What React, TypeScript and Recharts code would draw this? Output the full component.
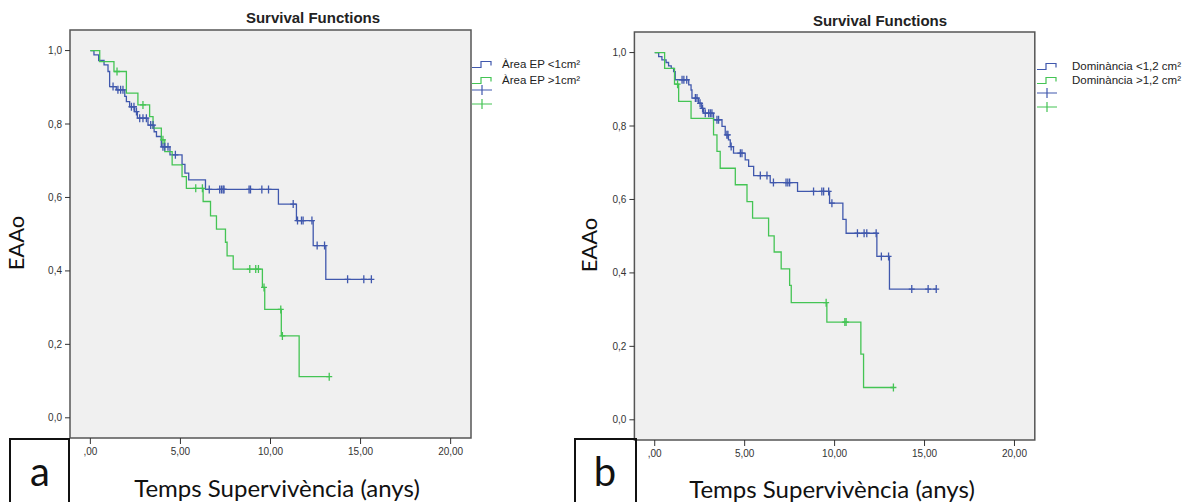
import { ComposedChart, Line, Scatter, XAxis, YAxis, CartesianGrid, ReferenceArea } from 'recharts'

const BLUE = '#4058ad'
const GREEN = '#44c454'

// shared axes
const xTicks = [0, 5, 10, 15, 20]
const yTicks = [0, 0.2, 0.4, 0.6, 0.8, 1.0]

// panel a: Àrea EP
const aLabels = ['Àrea EP <1cm²', 'Àrea EP >1cm²']
const aLowTimes = [0, 0.2, 0.46, 0.76, 0.98, 1.07, 1.44, 1.91, 2.0, 2.18, 2.46, 2.61, 3.2, 3.54, 3.67, 3.94, 4.42, 5.09, 5.25, 5.46, 6.39, 10.44, 11.44, 12.37, 13.07]
const aLowSurv = [1, 0.988, 0.973, 0.961, 0.943, 0.902, 0.893, 0.875, 0.861, 0.847, 0.834, 0.816, 0.797, 0.779, 0.766, 0.738, 0.716, 0.69, 0.666, 0.648, 0.622, 0.582, 0.537, 0.469, 0.377]
const aLowCens = [1.26, 1.53, 1.68, 1.81, 2.28, 2.42, 2.56, 2.74, 2.92, 3.11, 3.35, 3.48, 4.03, 4.13, 4.31, 4.72, 6.6, 7.18, 7.28, 7.37, 7.42, 8.81, 8.89, 9.52, 9.89, 11.26, 11.5, 11.72, 11.81, 12.3, 12.59, 13.0, 14.28, 15.18, 15.6]
const aHighTimes = [0, 0.52, 1.31, 2.0, 2.64, 3.29, 3.48, 3.94, 4.13, 4.54, 5.09, 5.33, 6.26, 6.67, 7.0, 7.5, 7.59, 7.93, 9.55, 9.68, 10.6, 11.59]
const aHighSurv = [1, 0.97, 0.943, 0.884, 0.852, 0.82, 0.789, 0.757, 0.725, 0.689, 0.657, 0.625, 0.589, 0.55, 0.514, 0.478, 0.441, 0.405, 0.355, 0.295, 0.223, 0.112]
const aHighCens = [1.48, 2.92, 4.03, 5.85, 6.22, 8.85, 9.18, 9.33, 9.64, 10.57, 10.66, 13.26]

// panel b: Dominància
const bLabels = ['Dominància <1,2 cm²', 'Dominància >1,2 cm²']
const bLowTimes = [0, 0.22, 0.4, 0.63, 0.77, 0.92, 1.05, 1.14, 1.89, 2.02, 2.07, 2.44, 2.59, 2.72, 3.27, 3.74, 3.92, 4.1, 4.2, 4.38, 5.03, 5.22, 5.5, 6.42, 7.94, 9.72, 10.46, 10.64, 12.35, 13.05]
const bLowSurv = [1, 0.989, 0.98, 0.973, 0.964, 0.957, 0.948, 0.926, 0.912, 0.898, 0.876, 0.862, 0.848, 0.835, 0.817, 0.799, 0.776, 0.762, 0.744, 0.726, 0.708, 0.69, 0.665, 0.646, 0.622, 0.59, 0.546, 0.508, 0.445, 0.356]
const bLowCens = [1.52, 1.62, 1.78, 2.26, 2.35, 2.52, 2.66, 2.81, 3.0, 3.09, 3.18, 3.46, 3.55, 4.01, 4.07, 4.25, 4.76, 4.85, 5.87, 6.24, 6.6, 7.3, 7.4, 7.5, 8.83, 9.29, 9.39, 9.67, 9.85, 11.27, 11.64, 11.79, 12.31, 12.6, 13.0, 14.29, 15.2, 15.65]
const bHighTimes = [0, 0.55, 1.1, 1.33, 2.02, 3.27, 3.46, 3.64, 4.48, 5.13, 5.44, 6.33, 6.64, 7.03, 7.5, 7.59, 9.57, 11.46, 11.61]
const bHighSurv = [1, 0.957, 0.914, 0.867, 0.821, 0.776, 0.731, 0.685, 0.64, 0.594, 0.549, 0.501, 0.457, 0.411, 0.366, 0.319, 0.266, 0.179, 0.088]
const bHighCens = [1.27, 9.53, 10.57, 10.64, 13.27]

type Pt = { t: number; s: number }

function survAt(times: number[], surv: number[], t: number) {
  let v = surv[0]
  for (let i = 0; i < times.length; i++) if (times[i] <= t) v = surv[i]
  return v
}

// KM step: last segment runs out to the last censored case
function stepData(times: number[], surv: number[], cens: number[]): Pt[] {
  const pts = times.map((t, i) => ({ t, s: surv[i] }))
  pts.push({ t: Math.max(...cens), s: surv[surv.length - 1] })
  return pts
}

function censData(times: number[], surv: number[], cens: number[]): Pt[] {
  return cens.map(t => ({ t, s: survAt(times, surv, t) }))
}

const cross = (color: string) => (props: any) => {
  const { cx, cy } = props
  return <path d={`M${cx - 3},${cy}H${cx + 3}M${cx},${cy - 4}V${cy + 4}`} stroke={color} strokeWidth={1.3} fill="none" />
}

const fmtX = (v: number) => (v === 0 ? ',00' : v.toFixed(2).replace('.', ','))
const fmtY = (v: number) => v.toFixed(1).replace('.', ',')

const tickFont = { fontSize: 10, fill: '#333', fontFamily: 'Liberation Sans, Arial, sans-serif' }
const bigFont = 'Lato, Calibri, sans-serif'

interface Group { times: number[]; surv: number[]; cens: number[]; color: string }

interface PanelProps {
  left: number
  width: number
  margin: { top: number; right: number; bottom: number; left: number }
  groups: Group[]
}

function Panel({ left, width, margin, groups }: PanelProps) {
  return (
    <div style={{ position: 'absolute', left, top: 0 }}>
      <ComposedChart width={width} height={502} margin={margin}>
        <CartesianGrid horizontal={false} vertical={false} fill="#f0f0f0" />
        <XAxis type="number" dataKey="t" domain={[-1.13, 21.13]} ticks={xTicks} interval={0} allowDataOverflow
          axisLine={false} tickLine={{ stroke: '#333' }} tickSize={6} tickMargin={4} height={30}
          tick={tickFont} tickFormatter={fmtX} />
        <YAxis type="number" dataKey="s" domain={[-0.055, 1.056]} ticks={yTicks} interval={0} allowDataOverflow
          axisLine={false} tickLine={{ stroke: '#333' }} tickSize={5} tickMargin={3} width={40}
          tick={tickFont} tickFormatter={fmtY} />
        {groups.map((g, i) => (
          <Line key={'l' + i} data={stepData(g.times, g.surv, g.cens)} dataKey="s" type="stepAfter"
            stroke={g.color} strokeWidth={1.3} dot={false} activeDot={false} isAnimationActive={false} />
        ))}
        {groups.map((g, i) => (
          <Scatter key={'c' + i} data={censData(g.times, g.surv, g.cens)} dataKey="s"
            shape={cross(g.color)} isAnimationActive={false} />
        ))}
        <ReferenceArea x1={-1.13} x2={21.13} y1={-0.055} y2={1.056} fill="none" stroke="#555" strokeWidth={1.5} ifOverflow="visible" />
      </ComposedChart>
    </div>
  )
}

function StepIcon({ color }: { color: string }) {
  return (
    <svg width={22} height={10} style={{ display: 'block' }}>
      <path d="M0,8.5H9V2.5H19V6.5" stroke={color} strokeWidth={1.2} fill="none" />
    </svg>
  )
}

function PlusIcon({ color }: { color: string }) {
  return (
    <svg width={22} height={12} style={{ display: 'block' }}>
      <path d="M0,6H20M10,1V11" stroke={color} strokeWidth={1.2} fill="none" />
    </svg>
  )
}

function LegendBlock({ x, textX, rows, labels }: { x: number; textX: number; rows: number[]; labels: string[] }) {
  const colors = [BLUE, GREEN]
  return (
    <>
      {labels.map((lab, i) => (
        <div key={'s' + i}>
          <div style={{ position: 'absolute', left: x, top: rows[i] - 5 }}><StepIcon color={colors[i]} /></div>
          <div style={{ position: 'absolute', left: textX, top: rows[i] - 8, fontSize: 11.5, lineHeight: '16px', color: '#222', fontFamily: 'Liberation Sans, Arial, sans-serif', whiteSpace: 'nowrap' }}>{lab}</div>
        </div>
      ))}
      {labels.map((_, i) => (
        <div key={'p' + i} style={{ position: 'absolute', left: x, top: rows[i + 2] - 6 }}><PlusIcon color={colors[i]} /></div>
      ))}
    </>
  )
}

const centered = (x: number, y: number, extra: any = {}) => ({
  position: 'absolute' as const, left: x, top: y, transform: 'translate(-50%, -50%)' + (extra.rot ? ' rotate(-90deg)' : ''),
  whiteSpace: 'nowrap' as const, lineHeight: 1,
})

export default function App() {
  const groupsA: Group[] = [
    { times: aLowTimes, surv: aLowSurv, cens: aLowCens, color: BLUE },
    { times: aHighTimes, surv: aHighSurv, cens: aHighCens, color: GREEN },
  ]
  const groupsB: Group[] = [
    { times: bLowTimes, surv: bLowSurv, cens: bLowCens, color: BLUE },
    { times: bHighTimes, surv: bHighSurv, cens: bHighCens, color: GREEN },
  ]
  return (
    <div style={{ position: 'absolute', left: 0, top: 0, width: 1195, height: 502, background: '#fff', overflow: 'hidden' }}>
      <Panel left={0} width={590} margin={{ top: 30, right: 119, bottom: 34, left: 30 }} groups={groupsA} />
      <Panel left={580} width={615} margin={{ top: 32, right: 160.2, bottom: 32, left: 14.4 }} groups={groupsB} />

      <div style={{ ...centered(313, 17), fontFamily: 'Liberation Sans, Arial, sans-serif', fontWeight: 700, fontSize: 15, color: '#222' }}>Survival Functions</div>
      <div style={{ ...centered(880, 20), fontFamily: 'Liberation Sans, Arial, sans-serif', fontWeight: 700, fontSize: 15, color: '#222' }}>Survival Functions</div>

      <LegendBlock x={472} textX={502} rows={[64, 80, 90, 104]} labels={aLabels} />
      <LegendBlock x={1037} textX={1072} rows={[66, 80, 93, 107]} labels={bLabels} />

      <div style={{ ...centered(16, 243, { rot: true }), fontFamily: bigFont, fontSize: 22, color: '#111' }}>EAAo</div>
      <div style={{ ...centered(589, 245, { rot: true }), fontFamily: bigFont, fontSize: 22, color: '#111' }}>EAAo</div>

      <div style={{ ...centered(277, 488), fontFamily: bigFont, fontSize: 24, color: '#111' }}>Temps Supervivència (anys)</div>
      <div style={{ ...centered(832, 489), fontFamily: bigFont, fontSize: 24, color: '#111' }}>Temps Supervivència (anys)</div>

      <div style={{ position: 'absolute', left: 9, top: 438, width: 61, height: 70, border: '2px solid #111', boxSizing: 'border-box' }} />
      <div style={{ ...centered(40, 471), fontFamily: bigFont, fontSize: 40, color: '#111' }}>a</div>
      <div style={{ position: 'absolute', left: 574, top: 438, width: 63, height: 70, border: '2px solid #111', boxSizing: 'border-box' }} />
      <div style={{ ...centered(605, 471), fontFamily: bigFont, fontSize: 40, color: '#111' }}>b</div>
    </div>
  )
}
